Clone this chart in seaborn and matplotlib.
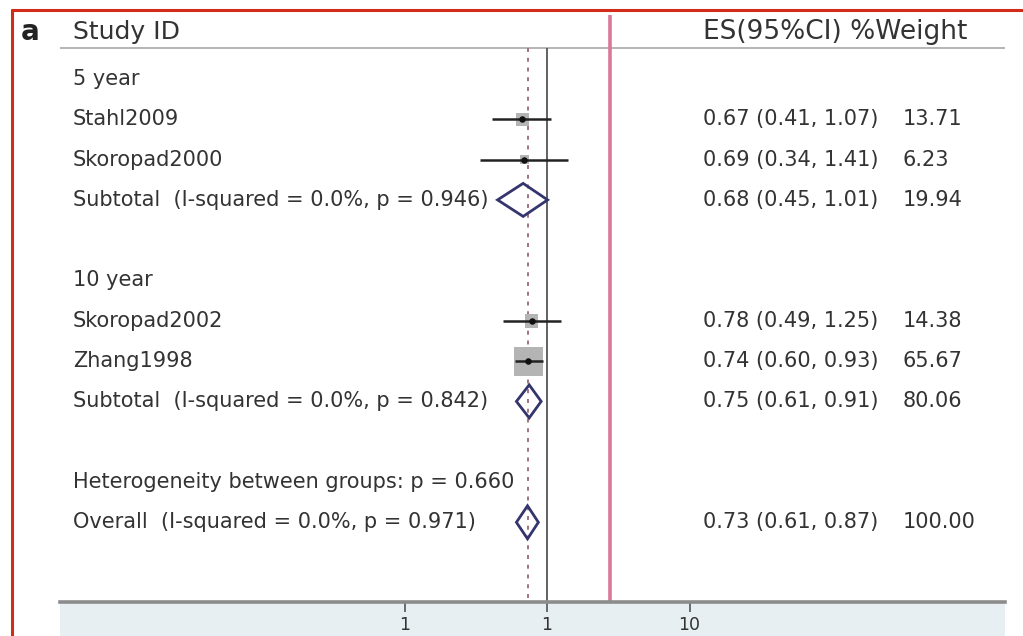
import numpy as np
import pandas as pd
import matplotlib
matplotlib.use("Agg")
import matplotlib.pyplot as plt
import seaborn as sns
from matplotlib.patches import Polygon, Rectangle
from matplotlib.lines import Line2D
from matplotlib.ticker import NullLocator, FixedLocator

# ---------------- data ----------------
group_names = ["5 year", "10 year"]
study_names = ["Stahl2009", "Skoropad2000", "Skoropad2002", "Zhang1998"]
study_group = ["5 year", "5 year", "10 year", "10 year"]
study_es = [0.67, 0.69, 0.78, 0.74]
study_lo = [0.41, 0.34, 0.49, 0.60]
study_hi = [1.07, 1.41, 1.25, 0.93]
study_wt = [13.71, 6.23, 14.38, 65.67]

subtotal_labels = ["Subtotal  (I-squared = 0.0%, p = 0.946)",
                   "Subtotal  (I-squared = 0.0%, p = 0.842)"]
subtotal_es = [0.68, 0.75]
subtotal_lo = [0.45, 0.61]
subtotal_hi = [1.01, 0.91]
subtotal_wt = [19.94, 80.06]

het_label = "Heterogeneity between groups: p = 0.660"
overall_label = "Overall  (I-squared = 0.0%, p = 0.971)"
overall_es = 0.73
overall_lo = 0.61
overall_hi = 0.87
overall_wt = 100.00

x_ticks = [0.1, 1, 10]
x_tick_labels = ["1", "1", "10"]
null_value = 1.0
red_line_value = 2.77

header_left = "Study ID"
header_right = "ES(95%CI) %Weight"
panel_letter = "a"

# ---------------- layout ----------------
W, H = 1023, 636
sns.set_theme(style="white")
plt.rcParams['font.family'] = ['DejaVu Sans']

fig = plt.figure(figsize=(W / 100, H / 100), dpi=100)
fig.patch.set_facecolor("white")

# bottom band (behind the axes)
fig.patches.append(Rectangle((60 / W, 0), (1005 - 60) / W, (H - 602) / H,
                             transform=fig.transFigure, facecolor="#e7eff2",
                             edgecolor="none", zorder=-5))

ax_left, ax_right, ax_bottom_px = 60, 1005, 602
ax = fig.add_axes([ax_left / W, (H - ax_bottom_px) / H,
                   (ax_right - ax_left) / W, ax_bottom_px / H])
ax.set_zorder(1)

row0_px, row_step = 79, 40.3
def px_to_row(py):
    return 1 + (py - row0_px) / row_step

y_top = px_to_row(0)
y_bot = px_to_row(ax_bottom_px)
ax.set_ylim(y_bot, y_top)

decade = 142.5
one_px = 547
ax.set_xscale("log")
ax.set_xlim(10 ** ((ax_left - one_px) / decade), 10 ** ((ax_right - one_px) / decade))

# build rows
rows_study, rows_sub, label_rows = [], [], []
r = 1
for gi, g in enumerate(group_names):
    label_rows.append((r, g))
    r += 1
    for i, sg in enumerate(study_group):
        if sg == g:
            rows_study.append(r)
            label_rows.append((r, study_names[i]))
            r += 1
    rows_sub.append(r)
    label_rows.append((r, subtotal_labels[gi]))
    r += 2
het_row = r
overall_row = r + 1
label_rows.append((het_row, het_label))
label_rows.append((overall_row, overall_label))

txt_color = "#333333"
fs_body = 15.0
ytr = ax.get_yaxis_transform()
def xf(px):
    return (px - ax_left) / (ax_right - ax_left)

for rr, lab in label_rows:
    ax.text(xf(73), rr, lab, transform=ytr, ha="left", va="center",
            fontsize=fs_body, color=txt_color)

def es_text(es, lo, hi):
    return f"{es:.2f} ({lo:.2f}, {hi:.2f})"

for i in range(len(study_names)):
    ax.text(xf(703), rows_study[i], es_text(study_es[i], study_lo[i], study_hi[i]),
            transform=ytr, ha="left", va="center", fontsize=fs_body, color=txt_color)
    ax.text(xf(903), rows_study[i], f"{study_wt[i]:.2f}", transform=ytr,
            ha="left", va="center", fontsize=fs_body, color=txt_color)
for i in range(len(subtotal_es)):
    ax.text(xf(703), rows_sub[i], es_text(subtotal_es[i], subtotal_lo[i], subtotal_hi[i]),
            transform=ytr, ha="left", va="center", fontsize=fs_body, color=txt_color)
    ax.text(xf(903), rows_sub[i], f"{subtotal_wt[i]:.2f}", transform=ytr,
            ha="left", va="center", fontsize=fs_body, color=txt_color)
ax.text(xf(703), overall_row, es_text(overall_es, overall_lo, overall_hi),
        transform=ytr, ha="left", va="center", fontsize=fs_body, color=txt_color)
ax.text(xf(903), overall_row, f"{overall_wt:.2f}", transform=ytr,
        ha="left", va="center", fontsize=fs_body, color=txt_color)

# headers
hdr_row = px_to_row(32)
ax.text(xf(73), hdr_row, header_left, transform=ytr, ha="left", va="center",
        fontsize=18, color=txt_color)
ax.text(xf(703), hdr_row, header_right, transform=ytr, ha="left", va="center",
        fontsize=19, color=txt_color)
ax.text(xf(21), hdr_row, panel_letter, transform=ytr, ha="left", va="center",
        fontsize=20, fontweight="bold", color="#222222", clip_on=False)

hline_row = px_to_row(48)
ax.plot([0, 1], [hline_row, hline_row], transform=ytr, color="#a8a8a8", lw=1.2)

# reference lines
ax.vlines(null_value, hline_row, y_bot, color="#555555", lw=1.3, zorder=2)
ax.vlines(overall_es, hline_row, y_bot, color="#9a6878", lw=1.3,
          linestyles=(0, (2.2, 3.2)), zorder=2)
ax.vlines(red_line_value, px_to_row(15), y_bot, color="#d9789a", lw=2.6, zorder=2)

# study boxes, CIs and points
df = pd.DataFrame({"es": study_es, "lo": study_lo, "hi": study_hi,
                   "wt": study_wt, "row": rows_study})
max_side_px = 29
side_pt = max_side_px * np.sqrt(df["wt"] / max(study_wt)) * 0.72
ax.scatter(df["es"], df["row"], marker="s", s=side_pt ** 2, color="#b4b4b4",
           linewidths=0, zorder=3)
ax.hlines(df["row"], df["lo"], df["hi"], color="#222222", lw=1.8, zorder=4)
sns.scatterplot(data=df, x="es", y="row", ax=ax, color="#111111", s=22,
                linewidth=0, zorder=5, legend=False)

# diamonds
h = 0.41
pooled = list(zip(subtotal_es, subtotal_lo, subtotal_hi, rows_sub)) + \
    [(overall_es, overall_lo, overall_hi, overall_row)]
for es, lo, hi, rr in pooled:
    ax.add_patch(Polygon([(lo, rr), (es, rr - h), (hi, rr), (es, rr + h)],
                         closed=True, fill=False, edgecolor="#35356e", lw=2.0, zorder=6))

# axes styling
for s in ["top", "left", "right"]:
    ax.spines[s].set_visible(False)
ax.spines["bottom"].set_color("#8c8c8c")
ax.spines["bottom"].set_linewidth(2.6)
ax.xaxis.set_major_locator(FixedLocator(x_ticks))
ax.xaxis.set_minor_locator(NullLocator())
ax.set_xticklabels(x_tick_labels)
ax.tick_params(axis="x", direction="out", length=7, width=1.2, color="#555555",
               pad=3, labelsize=12.5, labelcolor="#333333", bottom=True)
ax.set_yticks([])
ax.set_xlabel("")
ax.set_ylabel("")
ax.patch.set_alpha(0)

# red frame
fig.add_artist(Line2D([12 / W, 1], [1 - 10 / H, 1 - 10 / H], transform=fig.transFigure,
                      color="#d42a18", lw=2.2))
fig.add_artist(Line2D([12 / W, 12 / W], [0, 1 - 10 / H], transform=fig.transFigure,
                      color="#d42a18", lw=2.2))

fig.savefig("out.png", dpi=100)
